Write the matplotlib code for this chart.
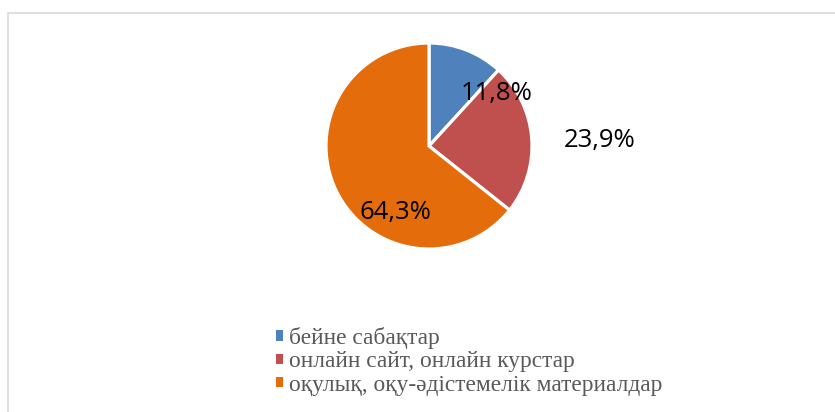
import numpy as np
import matplotlib
matplotlib.use("Agg")
from matplotlib import pyplot as plt
from matplotlib.patches import Rectangle, Patch

categories = ["бейне сабақтар",
              "онлайн сайт, онлайн курстар",
              "оқулық, оқу-әдістемелік материалдар"]
shares = [11.8, 23.9, 64.3]
value_labels = ["11,8%", "23,9%", "64,3%"]
colors = ["#4F81BD", "#C0504D", "#E46C0A"]

# label placement (radius fraction, angle in degrees)
label_pos = [(0.83, 38), (1.66, 2), (0.72, -116.6)]

W, H = 835, 412
fig = plt.figure(figsize=(W / 100, H / 100), dpi=100)

# light frame around the chart area
fig.patches.append(Rectangle((7.5 / W, -0.1), 1.2, 1 - 12.5 / H + 0.1,
                             transform=fig.transFigure, fill=False,
                             edgecolor="#d9d9d9", linewidth=1.2))

cx, cy, r = 429, 146, 103
ax = fig.add_axes([(cx - r) / W, (H - cy - r) / H, 2 * r / W, 2 * r / H])
ax.pie(shares, colors=colors, startangle=90, counterclock=False, radius=1,
       wedgeprops=dict(edgecolor="white", linewidth=2.3))
ax.set_xlim(-1, 1)
ax.set_ylim(-1, 1)
ax.set_aspect("equal")
ax.axis("off")

for txt, (d, a) in zip(value_labels, label_pos):
    t = np.deg2rad(a)
    ax.text(d * np.cos(t), d * np.sin(t), txt, ha="center", va="center",
            fontsize=18.5, family=["Open Sans", "DejaVu Sans"], color="black",
            clip_on=False)

handles = [Patch(facecolor=c, edgecolor="none") for c in colors]
leg = fig.legend(handles, categories, loc="upper left",
                 bbox_to_anchor=(276 / W, 1 - 327 / H), frameon=False,
                 prop={"family": "Liberation Serif", "size": 16.8},
                 handlelength=0.32, handleheight=0.3, handletextpad=0.24,
                 labelspacing=0.1, borderpad=0, borderaxespad=0)
for t in leg.get_texts():
    t.set_color("#595959")

fig.savefig("out.png", dpi=100)
